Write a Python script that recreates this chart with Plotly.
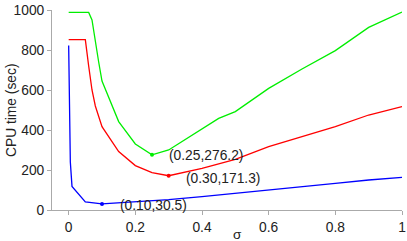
import plotly.graph_objects as go

green_x = [0, 0.06, 0.07, 0.08, 0.09, 0.1, 0.15, 0.2, 0.25, 0.3, 0.35, 0.4, 0.45, 0.5, 0.6, 0.7, 0.8, 0.9, 1.0]
green_y = [988, 988, 950, 840, 740, 645, 442, 330, 276.2, 300, 352, 405, 458, 492, 608, 705, 797, 913, 990]

red_x = [0, 0.05, 0.06, 0.07, 0.08, 0.09, 0.1, 0.15, 0.2, 0.25, 0.3, 0.4, 0.5, 0.6, 0.7, 0.8, 0.9, 1.0]
red_y = [852, 852, 720, 600, 520, 462, 417, 292, 222, 187, 171.3, 208, 253, 317, 368, 417, 475, 517]

blue_x = [0, 0.005, 0.01, 0.05, 0.1, 0.2, 0.3, 0.4, 0.5, 0.6, 0.7, 0.8, 0.9, 1.0]
blue_y = [822, 240, 118, 40, 30.5, 40, 52, 67, 83, 98, 115, 133, 150, 163]

min_x = [0.25, 0.30, 0.10]
min_y = [276.2, 171.3, 30.5]
min_labels = ["(0.25,276.2)", "(0.30,171.3)", "(0.10,30.5)"]
colors = ["#00ee00", "#ff0000", "#0000ff"]
label_pos = [(0.295, 272), (0.345, 160), (0.148, 23)]

x_ticks = [0, 0.2, 0.4, 0.6, 0.8, 1]
x_tick_text = ["0", "0.2", "0.4", "0.6", "0.8", "1"]
y_ticks = [0, 200, 400, 600, 800, 1000]

fig = go.Figure()
for xs, ys, c in [(green_x, green_y, colors[0]), (red_x, red_y, colors[1]), (blue_x, blue_y, colors[2])]:
    fig.add_trace(go.Scatter(x=xs, y=ys, mode="lines", line=dict(color=c, width=1.3), showlegend=False))

fig.add_trace(go.Scatter(x=min_x, y=min_y, mode="markers",
                         marker=dict(color=colors, size=4), showlegend=False))

for (lx, ly), t in zip(label_pos, min_labels):
    fig.add_annotation(x=lx, y=ly, text=t, showarrow=False, xanchor="left", yanchor="middle",
                       font=dict(size=13.8, color="#222222"))

axis_common = dict(showgrid=False, zeroline=False, showline=True, linecolor="#aaaaaa", linewidth=1,
                   ticks="outside", tickcolor="#aaaaaa", ticklen=4, automargin=False,
                   tickfont=dict(size=13.8, color="#222222"))

fig.update_xaxes(range=[-0.05, 1], tickvals=x_ticks, ticktext=x_tick_text, **axis_common)
fig.update_yaxes(range=[0, 1000], tickvals=y_ticks, **axis_common)

fig.add_annotation(xref="paper", yref="paper", x=0.5 + 0.05 / 1.05 / 2 + 0.005, y=0, yshift=-24,
                   text="σ", showarrow=False, xanchor="center", yanchor="middle",
                   font=dict(size=13.5, color="#222222"))
fig.add_annotation(xref="paper", yref="paper", x=0, xshift=-41, y=0.5,
                   text="CPU time (sec)", textangle=-90, showarrow=False,
                   xanchor="center", yanchor="middle",
                   font=dict(size=13.8, color="#222222"))

fig.update_layout(width=407, height=241, margin=dict(l=52, r=5, t=10, b=31),
                  plot_bgcolor="white", paper_bgcolor="white",
                  font=dict(family="Liberation Sans, Arial, sans-serif"))

fig.write_html("out.html", config={"displayModeBar": False},
               post_script="document.body.style.margin='0';document.body.style.overflow='hidden';")
